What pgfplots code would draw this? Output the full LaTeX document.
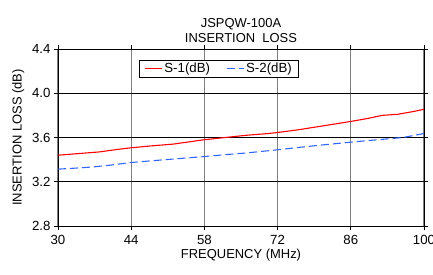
\documentclass[border=0pt]{standalone}
\usepackage{pgfplots}
\pgfplotsset{compat=1.18}
\usepackage{fontspec}
\setmainfont{Liberation Sans}
\definecolor{sblue}{RGB}{51,102,255}
\begin{document}
\begin{tikzpicture}
\useasboundingbox (-58bp,-49bp) rectangle (375bp,226bp);
\begin{axis}[
  at={(0,0)}, anchor=south west,
  scale only axis, width=366bp, height=177bp,
  xmin=30, xmax=100, ymin=2.8, ymax=4.4,
  xtick={30,44,58,72,86,100},
  ytick={2.8,3.2,3.6,4.0,4.4},
  yticklabel style={/pgf/number format/fixed,/pgf/number format/precision=1,/pgf/number format/fixed zerofill},
  /pgf/number format/assume math mode=true,
  ticklabel style={font=\fontsize{13.3}{15}\selectfont},
  xticklabel style={yshift=-2bp},
  tick align=outside, major tick length=4bp,
  tick style={black, line width=0.7pt},
  grid=major,
  x grid style={black!50, line width=1.3pt},
  y grid style={black, line width=0.8pt},
  axis line style={black, line width=0.9pt},
  xlabel={FREQUENCY (MHz)},
  ylabel={INSERTION LOSS (dB)},
  label style={font=\fontsize{13}{15}\selectfont},
  xlabel style={yshift=3bp},
  ylabel style={yshift=1bp},
  title={JSPQW-100A\\INSERTION\ \ LOSS},
  title style={align=center, font=\fontsize{13}{15}\selectfont, yshift=-3bp},
  legend style={at={(0.44,0.94)}, anchor=north, legend columns=2, draw=black, line width=0.7pt,
    font=\fontsize{13.3}{15}\selectfont, inner xsep=5bp, inner ysep=1bp, /tikz/every even column/.append style={column sep=14bp}},
  legend image post style={line width=1.1pt},
]
\addplot[red, line width=1.1pt] coordinates {
(30,3.44) (34,3.455) (38,3.47) (41,3.49) (44,3.507) (48,3.525) (52,3.54) (55,3.56) (58,3.58) (62,3.60) (66,3.62) (70,3.635) (72,3.645) (76,3.67) (80,3.70) (84,3.73) (86,3.745) (89,3.77) (92,3.80) (95,3.81) (98,3.835) (100,3.855)
};
\addlegendentry{S-1(dB)}
\addplot[sblue, line width=1.1pt, dash pattern=on 8bp off 4bp] coordinates {
(30,3.314) (34,3.325) (37,3.335) (40,3.35) (44,3.374) (48,3.39) (52,3.405) (58,3.428) (62,3.445) (66,3.46) (72,3.489) (76,3.51) (80,3.53) (86,3.558) (90,3.575) (96,3.60) (100,3.636)
};
\addlegendentry{S-2(dB)}
\end{axis}
\end{tikzpicture}
\end{document}
